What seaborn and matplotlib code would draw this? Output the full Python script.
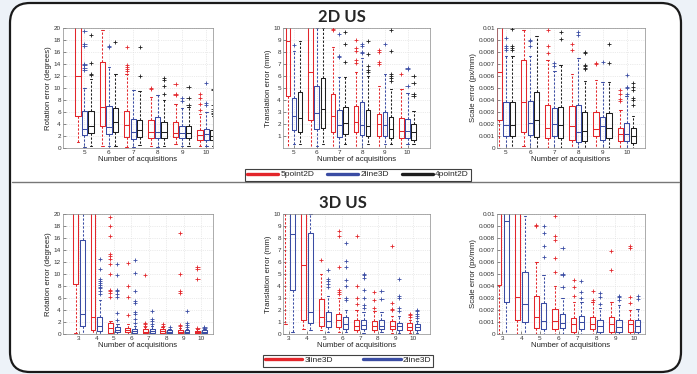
import numpy as np
import pandas as pd
import matplotlib.pyplot as plt
import seaborn as sns
from matplotlib.patches import FancyBboxPatch
from matplotlib.lines import Line2D
from matplotlib.ticker import FuncFormatter

acq_2d = [5, 6, 7, 8, 9, 10]
acq_3d = [3, 4, 5, 6, 7, 8, 9, 10]
methods_2d = ['5point2D', '2line3D', '4point2D']
methods_3d = ['3line3D', '2line3D']

# each box: [whisker low, q1, median, q3, whisker high]
# (values past the top of the axis are only rough, they get clipped)
rot2d_box = {
    '5point2D': [[1.0, 5.3, 12.0, 25, 40], [0.3, 3.6, 6.8, 14.4, 19.6], [0.2, 1.8, 3.9, 6.2, 12.3],
                 [0.3, 1.7, 2.7, 4.6, 8.5], [0.6, 1.9, 2.5, 4.3, 7.4], [0.3, 1.3, 2.1, 3.0, 5.6]],
    '2line3D': [[0.2, 2.1, 3.2, 6.1, 10.0], [0.3, 2.4, 3.5, 7.0, 13.5], [0.2, 1.5, 2.7, 4.9, 9.6],
                [0.2, 1.7, 2.7, 5.1, 8.8], [0.3, 1.7, 2.5, 3.6, 6.6], [0.3, 1.4, 2.3, 3.2, 6.0]],
    '4point2D': [[0.3, 2.5, 3.6, 6.1, 11.5], [0.4, 2.6, 4.4, 6.7, 12.4], [0.5, 1.8, 3.0, 4.7, 9.5],
                 [0.4, 1.7, 2.7, 4.4, 8.0], [0.3, 1.7, 2.5, 3.7, 6.9], [0.4, 1.3, 2.0, 3.0, 5.3]],
}
rot2d_out = {
    '5point2D': [[], [], [12.8, 13.2, 13.5, 13.9, 16.9], [9.8, 10.0], [8.8, 9.0, 10.6], [6.3, 7.3, 8.3, 9.0]],
    '2line3D': [[13.0, 13.4, 13.8, 14.0, 17.0, 17.3, 19.5], [16.8, 17.0], [], [], [7.9, 8.4], [7.1, 7.5, 10.8]],
    '4point2D': [[12.2, 12.4, 14.2, 18.8], [17.7], [12.0, 16.9], [9.0, 10.3, 11.3, 11.6], [7.2, 8.3, 10.2],
                 [5.6, 5.9, 6.2, 6.5, 7.1, 9.6, 9.8]],
}

trans2d_box = {
    '5point2D': [[0.0, 4.3, 8.9, 13, 25], [0.0, 2.3, 6.35, 13, 25], [0.0, 1.3, 2.7, 4.5, 8.4],
                 [0.0, 1.3, 2.2, 3.5, 6.3], [0.0, 1.0, 2.0, 2.8, 5.2], [0.0, 0.8, 1.4, 2.5, 4.9]],
    '2line3D': [[0.3, 1.5, 2.65, 4.2, 8.1], [0.2, 1.6, 2.9, 5.2, 10.0], [0.0, 0.9, 1.9, 3.2, 5.9],
                [0.0, 1.1, 1.95, 3.8, 7.5], [0.3, 1.0, 1.9, 3.0, 6.2], [0.3, 0.8, 1.4, 2.4, 4.6]],
    '4point2D': [[0.3, 1.3, 2.5, 4.7, 8.9], [0.3, 1.7, 3.25, 5.8, 10.0], [0.3, 1.2, 2.1, 3.4, 5.9],
                 [0.3, 1.0, 1.8, 3.2, 6.0], [0.3, 0.8, 1.6, 2.6, 4.9], [0.3, 0.7, 1.35, 2.0, 3.1]],
}
trans2d_out = {
    '5point2D': [[], [], [9.8, 9.9], [7.1, 7.3, 8.1, 8.3, 9.0], [7.0, 7.2, 8.0, 8.2], [6.2]],
    '2line3D': [[8.6], [], [7.6, 7.7, 9.5], [7.9, 8.0, 8.5, 8.7], [8.7], [5.2, 6.6, 6.7]],
    '4point2D': [[], [], [7.2, 8.7, 9.7], [6.3, 6.5, 6.8, 7.8, 8.9], [5.6, 5.8, 6.0, 6.2, 8.1, 9.8],
                 [4.3, 4.5, 5.4, 6.0]],
}

scale2d_box = {
    '5point2D': [[0, 0.0023, 0.0063, 0.013, 0.02], [0.0002, 0.0013, 0.0038, 0.0073, 0.0098],
                 [0, 0.0008, 0.0017, 0.0036, 0.0073], [0, 0.0007, 0.0018, 0.0035, 0.0062],
                 [0, 0.0010, 0.0016, 0.0030, 0.0057], [0, 0.0006, 0.0012, 0.0017, 0.0032]],
    '2line3D': [[0, 0.0010, 0.0019, 0.0038, 0.0077], [0, 0.0011, 0.0021, 0.0039, 0.0077],
                [0, 0.0010, 0.0020, 0.0033, 0.0064], [0, 0.0005, 0.0013, 0.0036, 0.0075],
                [0, 0.0007, 0.0018, 0.0026, 0.0055], [0, 0.0006, 0.0012, 0.0021, 0.0043]],
    '4point2D': [[0, 0.0010, 0.0019, 0.0038, 0.0077], [0, 0.0009, 0.0023, 0.0047, 0.0093],
                 [0, 0.0008, 0.0019, 0.0034, 0.0069], [0, 0.0006, 0.0014, 0.0030, 0.0056],
                 [0, 0.0008, 0.0017, 0.0029, 0.0055], [0, 0.0004, 0.0010, 0.0017, 0.0027]],
}
scale2d_out = {
    '5point2D': [[], [], [0.0079, 0.0085, 0.0098], [0.0082, 0.0087], [0.0070, 0.0071],
                 [0.0039, 0.0041, 0.0045, 0.0048]],
    '2line3D': [[0.0082, 0.0083, 0.0085, 0.0092], [0.0085, 0.0089, 0.0090], [0.0068, 0.0071],
                [0.0094, 0.0097], [0.0072], [0.0045, 0.0050, 0.0051, 0.0061]],
    '4point2D': [[0.0082, 0.0083, 0.0085, 0.0099], [], [0.0091, 0.0097],
                 [0.0066, 0.0067, 0.0068, 0.0069, 0.0079, 0.0080], [0.0071, 0.0087],
                 [0.0036, 0.0040, 0.0042, 0.0048, 0.0051, 0.0054]],
}

rot3d_box = {
    '3line3D': [[0.2, 8.4, 24, 35, 60], [0, 0.7, 2.9, 25, 40], [0, 0.2, 1.0, 1.9, 2.2], [0, 0.3, 0.6, 1.0, 1.6],
                [0, 0.1, 0.4, 0.8, 1.2], [0, 0.2, 0.5, 0.8, 1.2], [0, 0.1, 0.4, 0.7, 1.0], [0, 0.1, 0.3, 0.5, 0.8]],
    '2line3D': [[0, 1.3, 3.4, 15.6, 25], [0, 0.5, 1.3, 2.8, 5.6], [0, 0.3, 0.7, 1.2, 1.6], [0, 0.2, 0.5, 0.9, 1.3],
                [0, 0.1, 0.5, 0.9, 1.3], [0, 0.1, 0.4, 0.6, 0.9], [0, 0.1, 0.4, 0.6, 0.9], [0, 0.1, 0.3, 0.6, 0.8]],
}
rot3d_out = {
    '3line3D': [[], [], [6.1, 6.9, 7.1, 7.3, 10.0, 11.6, 12.5, 13.0, 13.4, 16.4, 18.0, 19.5],
                [3.1, 6.1, 8.0, 11.9], [1.4, 1.6, 1.8, 9.8], [1.4, 1.6], [1.3, 1.5, 6.9, 7.1, 10.0, 16.8],
                [1.0, 9.2, 10.9, 11.1]],
    '2line3D': [[], [6.6, 7.2, 7.6, 7.9, 8.2, 8.5, 8.8, 9.1, 10.8, 12.5], [2.3, 3.5, 6.2, 6.6, 7.2, 7.4, 9.8, 11.7],
                [1.9, 2.5, 3.3, 3.6, 5.1, 5.5, 7.2, 10.2, 12.3], [1.6, 2.2, 2.5, 3.8], [1.1],
                [1.2, 1.5, 1.8, 3.8], [1.0, 1.1]],
}

trans3d_box = {
    '3line3D': [[0.8, 12, 15, 20, 30], [0.4, 1.2, 5.75, 13, 25], [0.3, 0.7, 1.4, 2.9, 5.0], [0.2, 0.6, 1.2, 1.7, 3.0],
                [0, 0.3, 0.7, 1.2, 2.0], [0, 0.3, 0.65, 1.1, 1.9], [0.1, 0.4, 0.7, 1.1, 1.5], [0.1, 0.3, 0.6, 0.9, 1.2]],
    '2line3D': [[0.2, 3.7, 8.3, 13, 25], [0.3, 0.9, 1.8, 8.4, 10.0], [0.2, 0.6, 1.1, 1.8, 3.2],
                [0.2, 0.4, 0.8, 1.4, 2.0], [0.1, 0.4, 0.75, 1.2, 1.8], [0.2, 0.4, 0.7, 1.2, 1.8],
                [0.1, 0.3, 0.65, 0.9, 1.5], [0.1, 0.3, 0.55, 0.8, 1.1]],
}
trans3d_out = {
    '3line3D': [[], [], [6.2], [3.3, 3.5, 3.7, 5.6, 8.2, 8.6], [2.5, 3.0, 4.0, 8.2], [2.2, 2.8, 3.5],
                [2.0, 2.1, 2.6, 7.3], [1.4, 1.6, 1.7]],
    '2line3D': [[], [], [3.9, 4.2, 4.4, 4.6, 5.3], [2.8, 3.0, 4.0, 4.5, 5.6, 6.1, 7.6],
                [2.2, 2.4, 3.0, 3.7, 4.7, 4.9, 5.0], [2.9, 3.6], [1.9, 2.2, 3.0, 3.2, 4.6], [1.3, 1.5, 1.7, 1.9, 2.0]],
}

scale3d_box = {
    '3line3D': [[0, 0.0041, 0.012, 0.02, 0.03], [0, 0.0012, 0.0031, 0.013, 0.02], [0, 0.0005, 0.0014, 0.0032, 0.0060],
                [0, 0.0004, 0.0011, 0.0021, 0.0040], [0, 0.0002, 0.0008, 0.0013, 0.0027],
                [0, 0.0004, 0.0008, 0.0014, 0.0027], [0, 0.0002, 0.0008, 0.0014, 0.0027],
                [0, 0.0002, 0.0008, 0.0012, 0.0020]],
    '2line3D': [[0, 0.0027, 0.0094, 0.013, 0.02], [0, 0.0010, 0.0025, 0.0052, 0.0098], [0, 0.0004, 0.0011, 0.0026, 0.0049],
                [0, 0.0005, 0.0009, 0.0017, 0.0030], [0, 0.0004, 0.0010, 0.0015, 0.0027],
                [0, 0.0002, 0.0007, 0.0012, 0.0022], [0, 0.0002, 0.0006, 0.0012, 0.0024],
                [0, 0.0002, 0.0007, 0.0012, 0.0021]],
}
scale3d_out = {
    '3line3D': [[], [], [0.0090, 0.0091], [0.0052, 0.0063, 0.0078, 0.0082, 0.0098], [0.0032, 0.0039, 0.0045],
                [0.0028, 0.0036], [0.0053, 0.0069], [0.0026, 0.0031, 0.0072, 0.0073]],
    '2line3D': [[], [], [0.0064, 0.0073, 0.0084, 0.0090], [0.0039, 0.0049, 0.0050, 0.0072], [0.0030, 0.0035, 0.0044],
                [0.0025, 0.0031, 0.0034], [0.0028, 0.0031, 0.0032], [0.0029, 0.0032]],
}

RED, BLUE, BLACK = '#e3262b', '#3a4ca3', '#1e1e1e'
pal_2d = {'5point2D': RED, '2line3D': BLUE, '4point2D': BLACK}
pal_3d = {'3line3D': RED, '2line3D': BLUE}

sns.set_style('white')
plt.rcParams['font.family'] = ['Liberation Sans', 'DejaVu Sans']


def to_long(acq, table):
    rows = []
    for m, groups in table.items():
        for n, vals in zip(acq, groups):
            rows += [(n, m, v) for v in vals]
    return pd.DataFrame(rows, columns=['n', 'method', 'v'])


def panel(ax, acq, methods, pal, box, out, ylim, yticks, ylabel, xlim, gap):
    # 5 values per box + whis=(0,100) -> seaborn draws exactly the summary
    sns.boxplot(data=to_long(acq, box), x='n', y='v', hue='method', order=acq, hue_order=methods,
                palette=pal, whis=(0, 100), fill=False, width=0.8, gap=gap, linewidth=0.75,
                whiskerprops={'linestyle': (0, (2.2, 1.6))}, legend=False, ax=ax)
    sns.stripplot(data=to_long(acq, out), x='n', y='v', hue='method', order=acq, hue_order=methods,
                  palette=pal, dodge=True, jitter=False, marker='+', size=3, linewidth=0.6,
                  legend=False, ax=ax)
    ax.set_xlim(*xlim)
    ax.set_ylim(*ylim)
    ax.set_yticks(yticks)
    ax.yaxis.set_major_formatter(FuncFormatter(lambda v, p: f'{round(v, 4):g}'))
    ax.grid(True, color='#d9d9d9', linestyle=':', linewidth=0.5)
    ax.set_axisbelow(True)
    for s in ax.spines.values():
        s.set_color('#8a8a8a')
        s.set_linewidth(0.5)
    ax.tick_params(direction='in', length=2, width=0.4, labelsize=4.6, pad=1.5,
                   colors='#333333', left=True, bottom=True)
    ax.set_xlabel('Number of acquisitions', fontsize=5.6, labelpad=0.5, color='#222222')
    ax.set_ylabel(ylabel, fontsize=5.6, labelpad=1.5, color='#222222')


fig = plt.figure(figsize=(6.97, 3.74), dpi=100)
fig.patch.set_facecolor('#edf2f8')
fig.add_artist(FancyBboxPatch((0.10, 0.02), 6.71, 3.69, boxstyle='round,pad=0,rounding_size=0.2',
                              transform=fig.dpi_scale_trans, facecolor='white', edgecolor='#1a1a1a',
                              linewidth=1.6, zorder=-1))
fig.add_artist(Line2D([0.10 / 6.97 + 0.003, 6.81 / 6.97 - 0.003], [1 - 182 / 374] * 2,
                      transform=fig.transFigure, color='#777777', linewidth=1.0))

lefts = [63 / 697, 283 / 697, 497 / 697]
widths = [150 / 697, 147 / 697, 148 / 697]
top_b, bot_b, h = 1 - 148 / 374, 1 - 334 / 374, 120 / 374
axs_top = [fig.add_axes([l, top_b, w, h]) for l, w in zip(lefts, widths)]
axs_bot = [fig.add_axes([l, bot_b, w, h]) for l, w in zip(lefts, widths)]

rot_ticks = np.arange(0, 21, 2)
scale_ticks = np.round(np.arange(0, 0.0101, 0.001), 4)

panel(axs_top[0], acq_2d, methods_2d, pal_2d, rot2d_box, rot2d_out, (0, 20), rot_ticks,
      'Rotation error (degrees)', (-0.88, 5.27), 0.18)
panel(axs_top[1], acq_2d, methods_2d, pal_2d, trans2d_box, trans2d_out, (0, 10), np.arange(1, 11),
      'Translation error (mm)', (-0.48, 5.99), 0.28)
panel(axs_top[2], acq_2d, methods_2d, pal_2d, scale2d_box, scale2d_out, (0, 0.01), scale_ticks,
      'Scale error (px/mm)', (-0.37, 5.76), 0.2)
panel(axs_bot[0], acq_3d, methods_3d, pal_3d, rot3d_box, rot3d_out, (0, 20), rot_ticks,
      'Rotation error (degrees)', (-0.92, 7.69), 0.3)
panel(axs_bot[1], acq_3d, methods_3d, pal_3d, trans3d_box, trans3d_out, (0, 10), np.arange(0, 11),
      'Translation error (mm)', (-0.34, 7.93), 0.3)
panel(axs_bot[2], acq_3d, methods_3d, pal_3d, scale3d_box, scale3d_out, (0, 0.01), scale_ticks,
      'Scale error (px/mm)', (-0.29, 7.59), 0.3)

fig.text(342 / 697, 1 - 17 / 374, '2D US', ha='center', va='center', fontsize=12,
         fontweight='bold', family='Lato')
fig.text(343 / 697, 1 - 203 / 374, '3D US', ha='center', va='center', fontsize=12,
         fontweight='bold', family='Lato')


def legend(methods, pal, x, y, hlen, spacing):
    handles = [Line2D([], [], color=pal[m], linewidth=2.4) for m in methods]
    leg = fig.legend(handles, methods, loc='center', bbox_to_anchor=(x, y), ncol=len(methods),
                     fontsize=6, handlelength=hlen, handletextpad=0.25, columnspacing=spacing,
                     borderpad=0.25, frameon=True, fancybox=False, edgecolor='#111111')
    leg.get_frame().set_linewidth(0.8)


legend(methods_2d, pal_2d, 358 / 697, 1 - 174.5 / 374, 3.7, 1.6)
legend(methods_3d, pal_3d, 348 / 697, 1 - 360.5 / 374, 4.5, 3.6)

fig.savefig('out.png', dpi=100, facecolor=fig.get_facecolor())
